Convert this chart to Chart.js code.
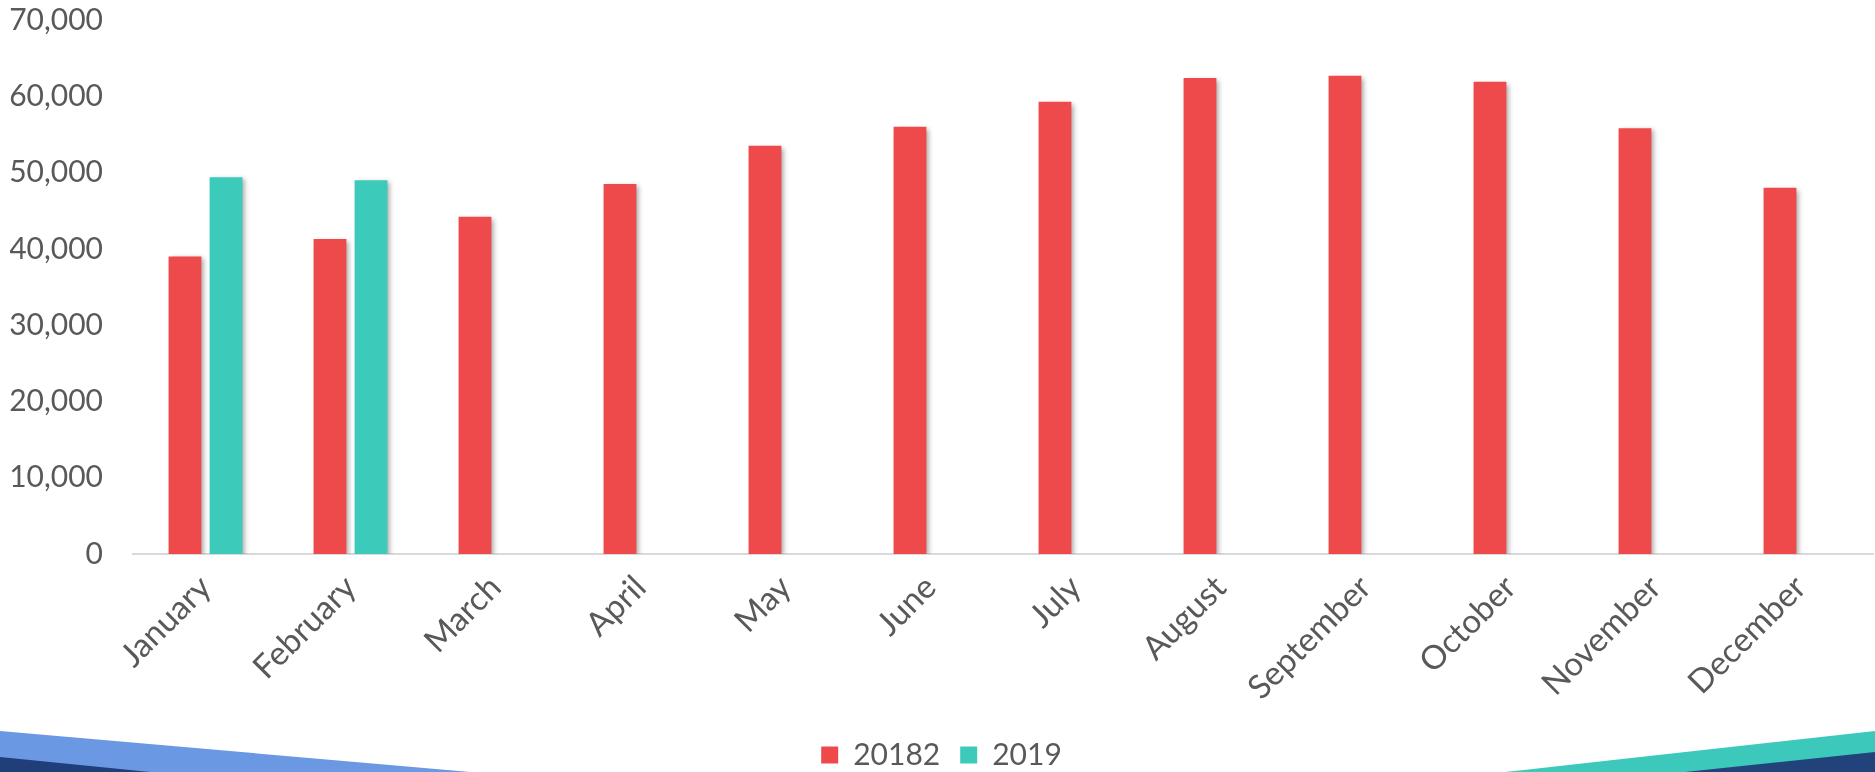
<!DOCTYPE html>
<html>
<head>
<meta charset="utf-8">
<title>Monthly totals</title>
<script src="https://cdn.jsdelivr.net/npm/chart.js@4.4.1/dist/chart.umd.min.js"></script>
<style>
  html, body { margin: 0; padding: 0; background: #fff; }
  #wrap { position: relative; width: 1875px; height: 772px; overflow: hidden; }
  #deco { position: absolute; left: 0; top: 0; }
  #chart { position: absolute; left: 0; top: 0; }
</style>
</head>
<body>
<div id="wrap">
  <!-- slide footer bands -->
  <svg id="deco" width="1875" height="772">
    <polygon points="0,731 470,772 0,772" fill="#6b98e2"/>
    <polygon points="0,757 150,772 0,772" fill="#203f7a"/>
    <polygon points="1875,731 1505,772 1875,772" fill="#3cc9bb"/>
    <polygon points="1875,752 1685,772 1875,772" fill="#22427b"/>
  </svg>
  <canvas id="chart" width="1875" height="772"></canvas>
</div>
<script>
const months = ['January', 'February', 'March', 'April', 'May', 'June',
                'July', 'August', 'September', 'October', 'November', 'December'];
const values2018 = [39000, 41300, 44200, 48500, 53500, 56000, 59300, 62400, 62700, 61900, 55800, 48000];
const values2019 = [49400, 49000, null, null, null, null, null, null, null, null, null, null];
const yTicks = [0, 10000, 20000, 30000, 40000, 50000, 60000, 70000];

const textColor = '#595959';
const fontFamily = 'Lato, "Open Sans", sans-serif';

// soft drop shadow behind every bar
const barShadow = {
    id: 'barShadow',
    beforeDatasetsDraw(chart) {
        const ctx = chart.ctx;
        ctx.save();
        ctx.shadowColor = 'rgba(0, 0, 0, 0.35)';
        ctx.shadowBlur = 5;
        ctx.shadowOffsetX = 3;
        ctx.shadowOffsetY = 2;
    },
    afterDatasetsDraw(chart) {
        chart.ctx.restore();
    }
};

const ctx = document.getElementById('chart').getContext('2d');
new Chart(ctx, {
    type: 'bar',
    data: {
        labels: months,
        datasets: [{
            label: '20182',
            data: values2018,
            backgroundColor: '#ee4a4c'
        }, {
            label: '2019',
            data: values2019,
            backgroundColor: '#3ccabb'
        }]
    },
    options: {
        responsive: false,
        animation: false,
        categoryPercentage: 0.566,
        barPercentage: 0.8,
        layout: { padding: { top: 4, left: 10, right: 2, bottom: -8 } },
        plugins: {
            tooltip: { enabled: false },
            legend: {
                position: 'bottom',
                labels: {
                    boxWidth: 17,
                    boxHeight: 17,
                    padding: 20,
                    color: textColor,
                    font: { family: fontFamily, size: 30 }
                }
            }
        },
        scales: {
            x: {
                grid: { display: false, drawTicks: false },
                border: { display: true, color: '#d9d9d9', width: 2 },
                ticks: {
                    color: textColor,
                    font: { family: fontFamily, size: 33 },
                    minRotation: 45,
                    maxRotation: 45,
                    padding: 14
                },
                afterFit(scale) {
                    scale.height = 166;
                    scale.paddingLeft = 0;
                    scale.paddingRight = 0;
                }
            },
            y: {
                min: 0,
                max: 70000,
                grid: { display: false, drawTicks: false },
                border: { display: false },
                afterBuildTicks(scale) {
                    scale.ticks = yTicks.map(v => ({ value: v }));
                },
                afterFit(scale) {
                    scale.width = 123;
                    scale.paddingTop = 20;
                    scale.paddingBottom = 0;
                },
                ticks: {
                    color: textColor,
                    font: { family: fontFamily, size: 30 },
                    padding: 30,
                    callback: v => v.toLocaleString('en-US')
                }
            }
        }
    },
    plugins: [barShadow]
});
</script>
</body>
</html>
